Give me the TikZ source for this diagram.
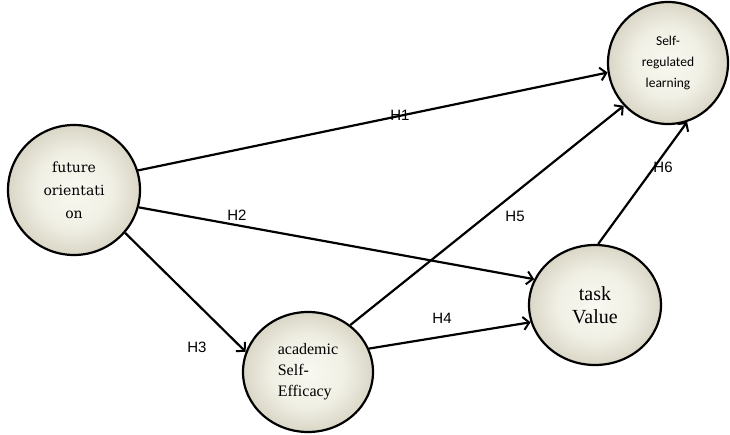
\documentclass[tikz,border=0pt]{standalone}
\usepackage{fontspec}
\setmainfont{Liberation Serif}
\newfontfamily\dvs{DejaVu Serif}
\newfontfamily\carl{Carlito}
\newfontfamily\lsans{Liberation Sans}
\usetikzlibrary{shapes.geometric,arrows.meta}
\definecolor{shin}{HTML}{F9F8F1}
\definecolor{shmid}{HTML}{F1F0E5}
\definecolor{shmid2}{HTML}{DCD9CA}
\definecolor{shout}{HTML}{BCB8A2}
\pgfdeclareradialshading{ballshade}{\pgfpoint{0bp}{0bp}}{color(0bp)=(shin); color(14bp)=(shmid); color(24bp)=(shmid2); color(34bp)=(shout); color(50bp)=(shout)}
\begin{document}
\begin{tikzpicture}[x=1pt,y=-1pt,
  construct/.style={ellipse, draw=black, line width=2.2pt, inner sep=0pt,
    shade, shading=ballshade, align=center},
  link/.style={line width=2.2pt, -{Straight Barb[length=6pt,width=13pt,line width=2pt]}},
  hyp/.style={font=\lsans\fontsize{15}{15}\selectfont, inner sep=0pt}]
\useasboundingbox (0,0) rectangle (730,435);
\node[construct, minimum width=132pt, minimum height=130pt,
  font=\dvs\fontsize{14}{23}\selectfont] (fo) at (74,190)
  {future\\orientati\\on};
\node[construct, minimum width=120pt, minimum height=122pt,
  font=\carl\fontsize{13.5}{21}\selectfont] (srl) at (668,63)
  {Self-\\regulated\\learning};
\node[construct, minimum width=132pt, minimum height=120pt,
  font=\fontsize{20}{23}\selectfont] (tv) at (595,305)
  {task\\Value};
\node[construct, minimum width=130pt, minimum height=120pt, align=left,
  font=\fontsize{16}{21}\selectfont] (ase) at (308,372)
  {academic\\Self-\\Efficacy};
\draw[link] (fo.17) -- (srl.189);
\draw[link] (fo.-15) -- (tv.157);
\draw[link] (fo.-40) -- (ase.162);
\draw[link] (ase.21) -- (tv.195);
\draw[link] (ase.48) -- (srl.224);
\draw[link] (tv.87) -- (srl.288);
\node[hyp] (h1) at (400,115) {H1};
\node[hyp] (h2) at (237,215) {H2};
\node[hyp] (h3) at (197,347) {H3};
\node[hyp] (h4) at (442,318) {H4};
\node[hyp] (h5) at (515,216) {H5};
\node[hyp] (h6) at (663,167) {H6};
\end{tikzpicture}
\end{document}
